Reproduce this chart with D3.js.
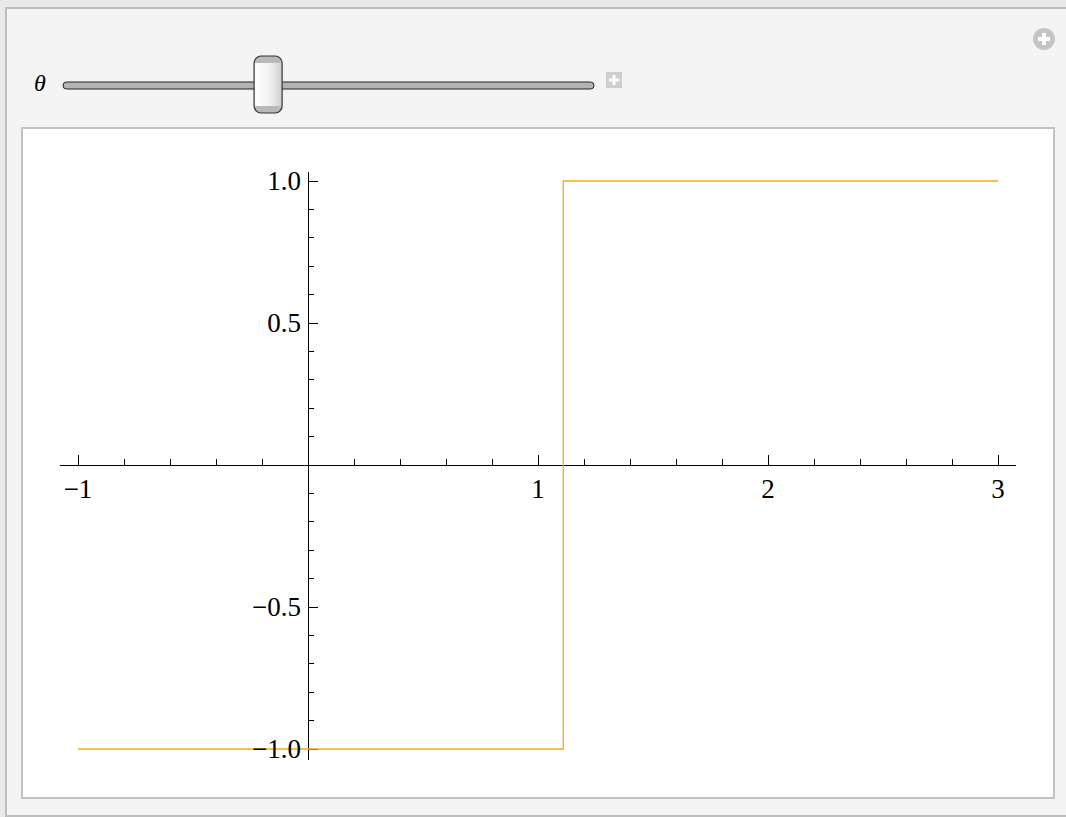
<!DOCTYPE html>
<meta charset="utf-8">
<style>
  body { margin: 0; background: #e9e9e9; }
  text { font-family: "Liberation Serif", "Times New Roman", serif; fill: #000; }
  .tick-label { font-size: 27px; }
</style>
<body>
<svg width="1066" height="817"></svg>
<script src="https://d3js.org/d3.v7.min.js"></script>
<script>
// slider value and step curve
const theta = 1.11;
const thetaRange = [0, 3];
const stepX = [-1, 1.11, 1.11, 3];
const stepY = [-1, -1, 1, 1];

// axis ticks
const xMajor = [-1, 1, 2, 3];
const xMinor = [-0.8, -0.6, -0.4, -0.2, 0.2, 0.4, 0.6, 0.8, 1.2, 1.4, 1.6, 1.8, 2.2, 2.4, 2.6, 2.8];
const yMajor = [-1, -0.5, 0, 0.5, 1];
const yMinor = [-0.9, -0.8, -0.7, -0.6, -0.4, -0.3, -0.2, -0.1, 0.1, 0.2, 0.3, 0.4, 0.6, 0.7, 0.8, 0.9];
const xLabels = ['\u22121', '1', '2', '3'];
const yLabels = ['\u22121.0', '\u22120.5', '', '0.5', '1.0'];

const svg = d3.select('svg');

// panels
svg.append('rect')
  .attr('x', 6).attr('y', 8).attr('width', 1070).attr('height', 808)
  .attr('fill', '#f4f4f4').attr('stroke', '#bdbdbd').attr('stroke-width', 2);

svg.append('rect')
  .attr('x', 22).attr('y', 128).attr('width', 1032).attr('height', 670)
  .attr('fill', '#ffffff').attr('stroke', '#c2c2c2').attr('stroke-width', 2);

// corner button
const btn = svg.append('g').attr('transform', 'translate(1044,39)');
btn.append('circle').attr('r', 11).attr('fill', '#c4c4c4');
btn.append('rect').attr('x', -6).attr('y', -2).attr('width', 12).attr('height', 4).attr('fill', '#fff');
btn.append('rect').attr('x', -2).attr('y', -6).attr('width', 4).attr('height', 12).attr('fill', '#fff');

// slider
const sx = d3.scaleLinear().domain(thetaRange).range([82, 585]);
svg.append('text')
  .attr('x', 40).attr('y', 91)
  .attr('text-anchor', 'middle')
  .attr('font-style', 'italic')
  .attr('font-size', 24)
  .text('θ');

svg.append('rect')
  .attr('x', 63).attr('y', 82).attr('width', 531).attr('height', 7).attr('rx', 3.5)
  .attr('fill', '#b3b3b3').attr('stroke', '#222').attr('stroke-width', 1);

const defs = svg.append('defs');
const grad = defs.append('linearGradient').attr('id', 'thumbGrad');
grad.append('stop').attr('offset', '0%').attr('stop-color', '#ffffff');
grad.append('stop').attr('offset', '55%').attr('stop-color', '#f2f2f2');
grad.append('stop').attr('offset', '100%').attr('stop-color', '#cfcfcf');

const tx = sx(theta);
const thumb = svg.append('g').attr('transform', `translate(${tx},0)`);
thumb.append('rect')
  .attr('x', -14).attr('y', 56).attr('width', 28).attr('height', 57).attr('rx', 7)
  .attr('fill', '#b9b9b9');
thumb.append('rect')
  .attr('x', -14).attr('y', 63).attr('width', 28).attr('height', 43)
  .attr('fill', 'url(#thumbGrad)');
thumb.append('rect')
  .attr('x', -14).attr('y', 56).attr('width', 28).attr('height', 57).attr('rx', 7)
  .attr('fill', 'none').attr('stroke', '#333').attr('stroke-width', 1.2);

const plus = svg.append('g').attr('transform', 'translate(614,80)');
plus.append('rect').attr('x', -8).attr('y', -8).attr('width', 16).attr('height', 16).attr('fill', '#cfcfcf');
plus.append('rect').attr('x', -5).attr('y', -1.5).attr('width', 10).attr('height', 3).attr('fill', '#fff');
plus.append('rect').attr('x', -1.5).attr('y', -5).attr('width', 3).attr('height', 10).attr('fill', '#fff');

// plot scales
const x = d3.scaleLinear().domain([-1, 3]).range([78, 998]);
const y = d3.scaleLinear().domain([-1, 1]).range([749, 181]);

const axes = svg.append('g').attr('stroke', '#000').attr('stroke-width', 1).attr('shape-rendering', 'crispEdges');

// x axis
axes.append('line')
  .attr('x1', x(-1.08)).attr('x2', x(3.08))
  .attr('y1', y(0)).attr('y2', y(0));
axes.selectAll('.xmaj').data(xMajor).enter().append('line')
  .attr('x1', d => x(d)).attr('x2', d => x(d))
  .attr('y1', y(0)).attr('y2', y(0) - 10);
axes.selectAll('.xmin').data(xMinor).enter().append('line')
  .attr('x1', d => x(d)).attr('x2', d => x(d))
  .attr('y1', y(0)).attr('y2', y(0) - 6);

// y axis
axes.append('line')
  .attr('x1', x(0)).attr('x2', x(0))
  .attr('y1', y(1.032)).attr('y2', y(-1.04));
axes.selectAll('.ymaj').data(yMajor).enter().append('line')
  .attr('x1', x(0)).attr('x2', x(0) + 10)
  .attr('y1', d => y(d)).attr('y2', d => y(d));
axes.selectAll('.ymin').data(yMinor).enter().append('line')
  .attr('x1', x(0)).attr('x2', x(0) + 6)
  .attr('y1', d => y(d)).attr('y2', d => y(d));

// curve
const pts = stepX.map((d, i) => [d, stepY[i]]);
svg.append('path')
  .datum(pts)
  .attr('fill', 'none')
  .attr('stroke', '#f9aa10')
  .attr('stroke-width', 1.3)
  .attr('d', d3.line().x(d => x(d[0])).y(d => y(d[1])));

// labels
svg.selectAll('.xl').data(xMajor).enter().append('text')
  .attr('class', 'tick-label')
  .attr('x', d => x(d))
  .attr('y', y(0) + 33)
  .attr('text-anchor', 'middle')
  .text((d, i) => xLabels[i]);

svg.selectAll('.yl').data(yMajor).enter().append('text')
  .attr('class', 'tick-label')
  .attr('x', x(0) - 7)
  .attr('y', d => y(d) + 9)
  .attr('text-anchor', 'end')
  .text((d, i) => yLabels[i]);
</script>
</body>
